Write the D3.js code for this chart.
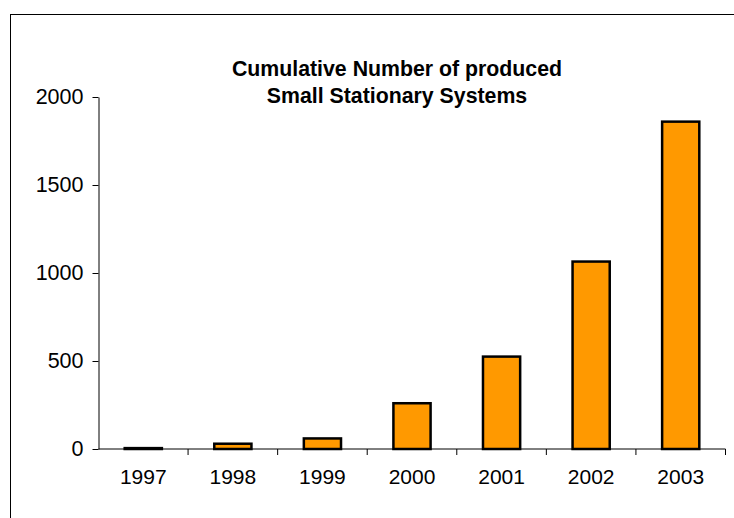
<!DOCTYPE html>
<html>
<head>
<meta charset="utf-8">
<script src="https://cdn.jsdelivr.net/npm/d3@7"></script>
<style>
  html, body { margin: 0; padding: 0; background: #fff; }
  svg { display: block; font-family: "Liberation Sans", Arial, sans-serif; }
</style>
</head>
<body>
<svg id="chart" width="734" height="518"></svg>
<script>
// Cumulative production of small stationary systems per year
const years = ["1997", "1998", "1999", "2000", "2001", "2002", "2003"];
const cumulative = [5, 30, 60, 260, 525, 1065, 1860];
const yTicks = [0, 500, 1000, 1500, 2000];
const titleLines = ["Cumulative Number of produced", "Small Stationary Systems"];

const svg = d3.select("#chart");
const plot = { left: 98.5, right: 725.5, top: 97, bottom: 449 };

// outer chart-area frame (runs off the right and bottom edges)
svg.append("rect")
  .attr("x", 10.5).attr("y", 14.5)
  .attr("width", 760).attr("height", 540)
  .attr("fill", "#fff")
  .attr("stroke", "#000").attr("stroke-width", 1);

const x = d3.scaleBand()
  .domain(years)
  .range([plot.left, plot.right])
  .paddingInner(0.585)
  .paddingOuter(0.2925);

const y = d3.scaleLinear()
  .domain([0, 2000])
  .range([plot.bottom, plot.top]);

// bars
svg.append("g").selectAll("rect")
  .data(years)
  .join("rect")
  .attr("x", d => x(d))
  .attr("y", (d, i) => y(cumulative[i]))
  .attr("width", x.bandwidth())
  .attr("height", (d, i) => y(0) - y(cumulative[i]))
  .attr("fill", "#FF9900")
  .attr("stroke", "#000")
  .attr("stroke-width", 2.5);

// y axis
const yAxis = svg.append("g")
  .attr("transform", `translate(${plot.left},0)`)
  .call(d3.axisLeft(y).tickValues(yTicks).tickFormat(d3.format("d")).tickSizeInner(6).tickSizeOuter(0).tickPadding(9));
yAxis.select(".domain").attr("stroke", "#000");
yAxis.selectAll(".tick line").attr("stroke", "#000");
yAxis.selectAll(".tick text")
  .attr("font-size", 21.5)
  .attr("font-family", "Liberation Sans, Arial, sans-serif")
  .attr("fill", "#000");

// x axis: labels at category centres, tick marks at category boundaries
const xAxis = svg.append("g")
  .attr("transform", `translate(0,${plot.bottom})`)
  .call(d3.axisBottom(x).tickSize(0).tickPadding(20));
xAxis.select(".domain").attr("d", `M${plot.left},0H${plot.right}`).attr("stroke", "#000");
xAxis.selectAll(".tick text")
  .attr("font-size", 21)
  .attr("font-family", "Liberation Sans, Arial, sans-serif")
  .attr("fill", "#000");

const bounds = d3.range(years.length + 1).map(i => plot.left + i * x.step());
xAxis.append("g").selectAll("line")
  .data(bounds.slice(1))
  .join("line")
  .attr("x1", d => d).attr("x2", d => d)
  .attr("y1", 0).attr("y2", 6)
  .attr("stroke", "#000");

// title
svg.append("text")
  .attr("x", 397).attr("y", 76)
  .attr("text-anchor", "middle")
  .attr("font-size", 21.3)
  .attr("font-weight", "bold")
  .selectAll("tspan")
  .data(titleLines)
  .join("tspan")
  .attr("x", 397)
  .attr("dy", (d, i) => i === 0 ? 0 : 26.5)
  .text(d => d);
</script>
</body>
</html>
